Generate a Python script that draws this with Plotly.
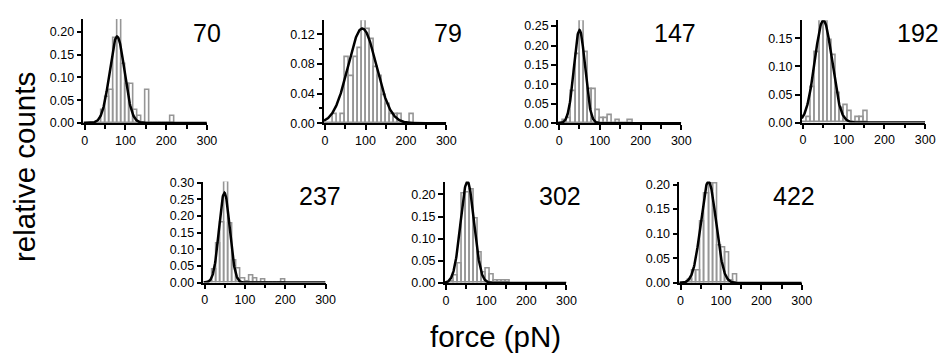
import numpy as np
import plotly.graph_objects as go

# ---------------- data ----------------
bin_width = 10  # pN, bins start at 0
panel_labels = ["70", "79", "147", "192", "237", "302", "422"]
n_events = [70, 79, 147, 192, 237, 302, 422]

# counts per 10-pN bin, first bin = 0-10 pN
counts_70 = [0, 0, 0, 0, 2, 4, 5, 13, 16, 9, 6, 6, 2, 1, 0, 5, 0, 0, 0, 0, 0, 1]
counts_79 = [0, 0, 1, 0, 1, 7, 5, 7, 8, 11, 10, 9, 6, 5, 3, 2, 1, 1, 1, 0, 0, 1]
counts_147 = [0, 1, 2, 12, 26, 39, 27, 13, 13, 5, 2, 2, 3, 0, 1, 0, 0, 1]
counts_192 = [0, 2, 12, 24, 35, 35, 28, 23, 10, 5, 6, 4, 0, 2, 2, 4]
counts_237 = [0, 1, 9, 28, 43, 72, 42, 16, 10, 3, 1, 5, 3, 0, 2, 0, 0, 0, 0, 2]
counts_302 = [0, 1, 5, 13, 61, 62, 64, 44, 21, 7, 10, 6, 2, 2, 2, 2]
counts_422 = [0, 0, 3, 11, 11, 53, 77, 85, 85, 32, 30, 26, 2, 7]
all_counts = [counts_70, counts_79, counts_147, counts_192,
              counts_237, counts_302, counts_422]

# Gaussian fit parameters (peak height, centre, width)
fit_amp = [0.19, 0.128, 0.24, 0.182, 0.27, 0.229, 0.206]
fit_center = [79.5, 92.0, 50.0, 50.0, 49.0, 53.0, 69.0]
fit_sigma = [18.0, 35.0, 13.5, 21.0, 13.2, 16.6, 18.7]

# axis settings
x_ticks = [0, 100, 200, 300]
y_max = [0.2286, 0.1392, 0.2653, 0.1823, 0.3038, 0.229, 0.206]
y_dtick = [0.05, 0.04, 0.05, 0.05, 0.05, 0.05, 0.05]

# ---------------- layout geometry (pixels) ----------------
W, H = 950, 356
panel_left = [82.5, 326, 563, 810, 204, 448.5, 686]
panel_right = [207.5, 450, 688, 935, 327.7, 571.7, 810]
panel_top = [14.5, 15.7, 15.7, 15.7, 182.7, 182.7, 182.7]
panel_bottom = [122, 122.3, 122.3, 121.7, 287.3, 287.7, 287.7]
label_x = [208, 451.5, 682, 928, 321.7, 565, 802]
label_y = [29, 29, 29, 29, 198, 198, 198]
x_start = -3

FONT = "Liberation Sans, Arial, Helvetica, sans-serif"
BAR_COLOR = "#969696"

fig = go.Figure()
annotations = []

for i in range(7):
    ax = "" if i == 0 else str(i + 1)
    counts = np.array(all_counts[i], dtype=float)
    rel = counts / n_events[i]
    centers = np.arange(len(counts)) * bin_width + bin_width / 2
    fig.add_trace(go.Bar(
        x=centers, y=rel, width=bin_width,
        marker=dict(color="rgba(255,255,255,0)",
                    line=dict(color=BAR_COLOR, width=1.6)),
        xaxis="x" + ax, yaxis="y" + ax, showlegend=False,
        hoverinfo="skip"))
    xs = np.linspace(x_start, 300, 400)
    ys = fit_amp[i] * np.exp(-(xs - fit_center[i]) ** 2 / (2 * fit_sigma[i] ** 2))
    fig.add_trace(go.Scatter(
        x=xs, y=ys, mode="lines", line=dict(color="black", width=2.5),
        xaxis="x" + ax, yaxis="y" + ax, showlegend=False, hoverinfo="skip"))

    xd = [panel_left[i] / W, panel_right[i] / W]
    yd = [1 - panel_bottom[i] / H, 1 - panel_top[i] / H]
    xaxis = dict(
        domain=xd, range=[x_start, 300], anchor="y" + ax,
        tickmode="array", tickvals=x_ticks, ticktext=[str(v) for v in x_ticks],
        ticks="outside", ticklen=5, tickwidth=1.5, tickcolor="black",
        showline=True, linecolor="black", linewidth=1.5,
        showgrid=False, zeroline=False,
        tickfont=dict(family=FONT, size=12.5, color="black"),
        minor=dict(tickvals=[50, 150, 250], ticks="outside", ticklen=4,
                   tickwidth=1.5, tickcolor="black", showgrid=False),
        fixedrange=True)
    yaxis = dict(
        domain=yd, range=[0, y_max[i]], anchor="x" + ax,
        tick0=0, dtick=y_dtick[i], tickformat=".2f",
        ticks="outside", ticklen=5, tickwidth=1.5, tickcolor="black",
        showline=True, linecolor="black", linewidth=1.5,
        showgrid=False, zeroline=False,
        tickfont=dict(family=FONT, size=12.5, color="black"),
        fixedrange=True)
    if i == 1:
        yaxis["minor"] = dict(dtick=0.02, ticks="outside", ticklen=3,
                              tickwidth=1.5, tickcolor="black", showgrid=False)
    fig.update_layout(**{"xaxis" + ax: xaxis, "yaxis" + ax: yaxis})

    annotations.append(dict(
        text=panel_labels[i], x=label_x[i] / W, y=1 - label_y[i] / H,
        xref="paper", yref="paper", xanchor="center", yanchor="middle",
        showarrow=False, font=dict(family=FONT, size=25, color="black")))

annotations.append(dict(
    text="relative counts", x=23 / W, y=1 - 168 / H, xref="paper", yref="paper",
    xanchor="center", yanchor="middle", textangle=-90, showarrow=False,
    font=dict(family=FONT, size=29.5, color="black")))
annotations.append(dict(
    text="force (pN)", x=500 / W, y=1 - 343 / H, xref="paper", yref="paper",
    xanchor="center", yanchor="middle", showarrow=False,
    font=dict(family=FONT, size=29.5, color="black")))

fig.update_layout(
    width=W, height=H, margin=dict(l=0, r=0, t=0, b=0),
    paper_bgcolor="white", plot_bgcolor="rgba(0,0,0,0)",
    barmode="overlay", bargap=0, annotations=annotations,
    font=dict(family=FONT, color="black"))

fig.write_html("out.html")
